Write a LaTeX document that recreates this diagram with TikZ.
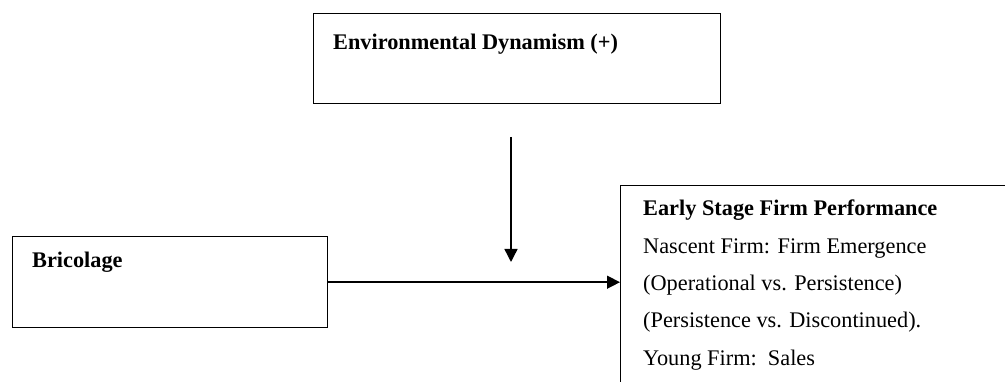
\documentclass[tikz,border=0pt]{standalone}
\usepackage{fontspec}
\setmainfont{Liberation Serif}
\usetikzlibrary{arrows.meta}
\begin{document}
\begin{tikzpicture}[x=1pt,y=1pt,
  boxstyle/.style={draw=black, line width=1.4pt, inner sep=0pt, anchor=north west},
  txt/.style={anchor=base west, inner sep=0pt, font=\fontsize{22.3}{26}\selectfont},
  conn/.style={line width=1.4pt, -{Triangle[length=13pt,width=13pt]}}]
\useasboundingbox (0,0) rectangle (1005,-382);
\clip (0,0) rectangle (1005,-382);
% boxes
\node[boxstyle, minimum width=407pt, minimum height=90pt] (env) at (313,-13) {};
\node[boxstyle, minimum width=315pt, minimum height=91pt] (bric) at (12,-236) {};
\node[boxstyle, minimum width=420pt, minimum height=230pt] (perf) at (620,-185) {};
% texts
\node[txt] (envt) at (333,-50) {\textbf{Environmental Dynamism (+)}};
\node[txt] (brict) at (32,-268) {\textbf{Bricolage}};
\node[txt] (p1) at (643,-216) {\textbf{Early Stage Firm Performance}};
\node[txt] (p2) at (643,-253.5) {Nascent Firm: Firm Emergence};
\node[txt] (p3) at (643,-291) {(Operational vs. Persistence)};
\node[txt] (p4) at (643,-328) {(Persistence vs. Discontinued).};
\node[txt] (p5) at (643,-365.5) {Young Firm:\ \ Sales};
% connectors
\coordinate (vtop) at (511,-137);
\coordinate (vend) at (511,-262);
\draw[conn] (vtop) -- (vend);
\draw[conn] (bric.east) -- (bric.east -| perf.west);
\end{tikzpicture}
\end{document}
